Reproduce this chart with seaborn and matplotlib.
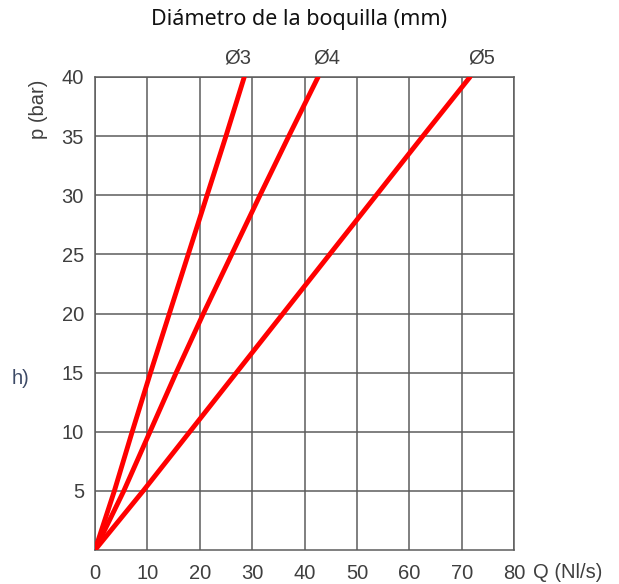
import matplotlib
matplotlib.use("Agg")
import matplotlib.pyplot as plt
import pandas as pd
import seaborn as sns

#%% data
pressure = [0, 5, 10, 15, 20, 25, 30, 35, 40]
q_d3 = [0, 3.7, 7.1, 10.6, 14.2, 17.8, 21.4, 25.0, 28.5]
q_d4 = [0, 5.5, 10.5, 15.5, 20.7, 26.1, 31.5, 37.0, 42.6]
q_d5 = [0, 9.2, 18.1, 27.0, 35.9, 44.8, 53.7, 62.6, 71.6]
nozzles = ['Ø3', 'Ø4', 'Ø5']
x_ticks = [0, 10, 20, 30, 40, 50, 60, 70, 80]
y_ticks = [5, 10, 15, 20, 25, 30, 35, 40]

df = pd.concat([
    pd.DataFrame({'Q': q, 'p': pressure, 'nozzle': n})
    for n, q in zip(nozzles, [q_d3, q_d4, q_d5])
])

#%% style
sns.set_style('white')
plt.rcParams['font.family'] = ['Liberation Sans', 'DejaVu Sans']
txt_col = '#3f3f3f'
grid_col = '#5c5c5c'
fs = 14.5

fig = plt.figure(figsize=(6.19, 5.84), dpi=100)
ax = fig.add_axes([95/619, 1-550/584, (514-95)/619, (550-77)/584])

sns.lineplot(data=df, x='Q', y='p', hue='nozzle', units='nozzle', estimator=None,
             palette=['#ff0000']*3, linewidth=3.5, legend=False, ax=ax, zorder=3)

ax.set_xlim(0, 80)
ax.set_ylim(0, 40)
ax.set_xticks(x_ticks)
ax.set_yticks(y_ticks)
ax.grid(True, color=grid_col, linewidth=1.1)
for s in ax.spines.values():
    s.set_color(grid_col)
    s.set_linewidth(1.1)
ax.tick_params(length=0, labelsize=fs, labelcolor=txt_col)
ax.tick_params(axis='x', pad=10)
ax.tick_params(axis='y', pad=8)
ax.set_xlabel('')
ax.set_ylabel('')

# labels at the top of each curve
for n, xpos in zip(nozzles, [27.3, 44.3, 73.9]):
    ax.text(xpos, 41.6, n, ha='center', va='center', fontsize=fs, color=txt_col)

ax.text(1.045, -0.047, 'Q (Nl/s)', transform=ax.transAxes, ha='left', va='center',
        fontsize=fs, color=txt_col)
fig.text(38/619, 1-109/584, 'p (bar)', rotation=90, ha='center', va='center',
         fontsize=fs, color=txt_col)
fig.text(12/619, 1-378/584, 'h)', ha='left', va='center', fontsize=fs, color='#3d4a66')

fig.text(299/619, 1-20/584, 'Diámetro de la boquilla (mm)', ha='center', va='center',
         fontsize=15.5, family=['Noto Sans', 'DejaVu Sans'], color='#111111')

plt.savefig('out.png', dpi=100)
